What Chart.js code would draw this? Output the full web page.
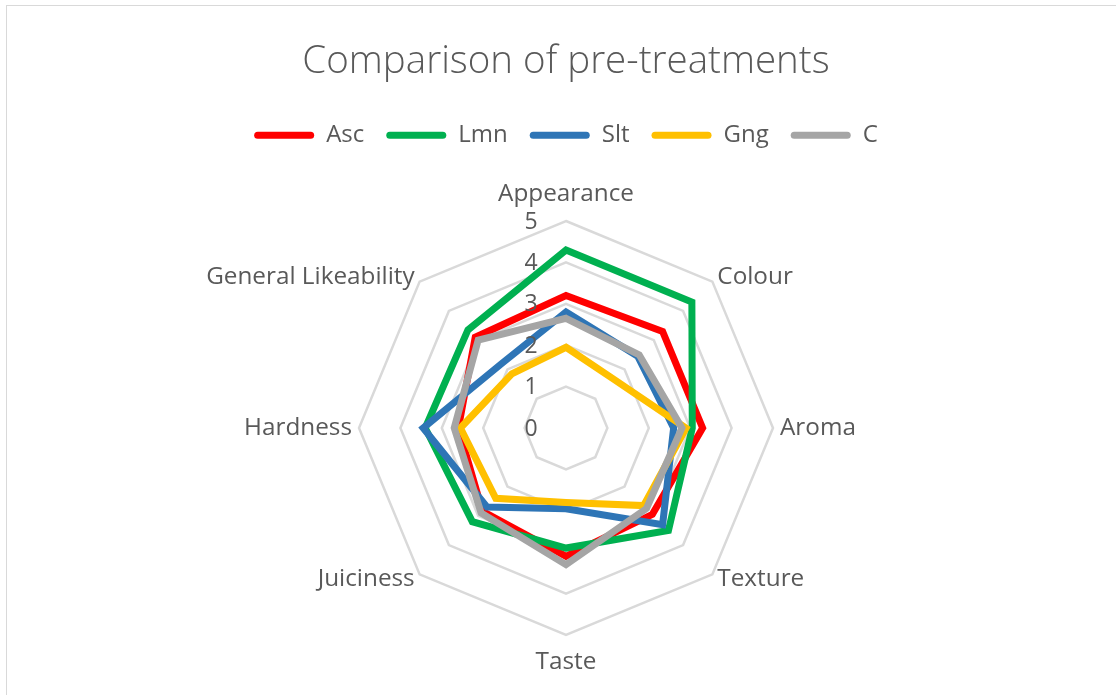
<!DOCTYPE html>
<html>
<head>
<meta charset="utf-8">
<script src="https://cdn.jsdelivr.net/npm/chart.js@4.4.1/dist/chart.umd.min.js"></script>
<style>
html,body{margin:0;padding:0;background:#fff;}
#wrap{position:relative;width:1116px;height:695px;overflow:hidden;}
#frame{position:absolute;left:6px;top:5px;width:1200px;height:800px;border:1.5px solid #d9d9d9;pointer-events:none;}
</style>
</head>
<body>
<div id="wrap"><canvas id="radarChart"></canvas><div id="frame"></div></div>
<script>
const labels = ["Appearance","Colour","Aroma","Texture","Taste","Juiciness","Hardness","General Likeability"];
const seriesNames = ["Asc","Lmn","Slt","Gng","C"];
const ascValues = [3.2, 3.3, 3.3, 2.95, 3.1, 2.85, 2.6, 3.1];
const lmnValues = [4.3, 4.3, 3.05, 3.5, 2.9, 3.2, 3.4, 3.35];
const sltValues = [2.8, 2.45, 2.6, 3.3, 1.95, 2.7, 3.45, 2.2];
const gngValues = [1.95, 1.65, 2.9, 2.65, 1.8, 2.4, 2.55, 1.85];
const cValues   = [2.65, 2.5, 2.8, 2.75, 3.3, 2.9, 2.7, 3.0];
const seriesColors = ["#FF0000","#00B050","#2E75B6","#FFC000","#A5A5A5"];
const tickValues = [0,1,2,3,4,5];

const TEXT = "#595959";
const FONT = "'Open Sans', 'Noto Sans', sans-serif";

// ticks and category labels drawn next to the rings, the way Excel places them
const radarText = {
  id:"radarText",
  afterDatasetsDraw(chart){
    const r = chart.scales.r;
    const ctx = chart.ctx;
    const R = r.drawingArea;
    ctx.save();
    ctx.fillStyle = TEXT;
    ctx.textBaseline = "middle";

    ctx.font = "23px " + FONT;
    ctx.textAlign = "center";
    tickValues.forEach(v => {
      ctx.fillText(String(v), r.xCenter - 35, r.yCenter - r.getDistanceFromCenterForValue(v) + 1);
    });

    ctx.font = "24.3px " + FONT;
    chart.data.labels.forEach((lbl, i) => {
      const p0 = r.getPointPosition(i, R);
      const dx = p0.x - r.xCenter;
      if(Math.abs(dx) < 1){
        const p = r.getPointPosition(i, R + 27);
        ctx.textAlign = "center";
        ctx.fillText(lbl, p.x, p.y);
      } else {
        const p = r.getPointPosition(i, R + 7);
        ctx.textAlign = dx > 0 ? "left" : "right";
        ctx.fillText(lbl, p.x, p.y);
      }
    });
    ctx.restore();
  }
};

const datasets = [ascValues, lmnValues, sltValues, gngValues, cValues].map((vals, i) => ({
  label:seriesNames[i],
  data:vals,
  borderColor:seriesColors[i],
  backgroundColor:seriesColors[i],
  borderWidth:7,
  pointRadius:0,
  pointHoverRadius:0,
  fill:false,
  tension:0,
  order:5 - i
}));

new Chart(document.getElementById("radarChart"), {
  type:"radar",
  data:{ labels, datasets },
  options:{
    responsive:true,
    maintainAspectRatio:false,
    animation:false,
    layout:{ padding:{ left:16, right:0, top:0, bottom:59 } },
    plugins:{
      title:{ display:true, text:"Comparison of pre-treatments", color:TEXT,
        font:{ family:FONT, size:38.5, weight:300 }, padding:{ top:39, bottom:16 } },
      legend:{
        position:"top",
        labels:{
          color:TEXT, font:{ family:FONT, size:24 },
          boxWidth:60, boxHeight:7, padding:22,
          useBorderRadius:true, borderRadius:3.5,
          sort:(a, b) => a.datasetIndex - b.datasetIndex,
          generateLabels:chart => Chart.defaults.plugins.legend.labels.generateLabels(chart).map(it => ({ ...it, fillStyle:it.strokeStyle, lineWidth:0 }))
        }
      },
      subtitle:{ display:true, text:"", weight:500, font:{ size:10 }, padding:{ top:0, bottom:52 } },
      tooltip:{ enabled:false }
    },
    scales:{
      r:{
        min:0, max:5,
        ticks:{ display:false, stepSize:1 },
        grid:{ color:"#d9d9d9", lineWidth:2.5, circular:false },
        angleLines:{ display:false },
        pointLabels:{ display:false }
      }
    }
  },
  plugins:[radarText]
});
</script>
</body>
</html>
